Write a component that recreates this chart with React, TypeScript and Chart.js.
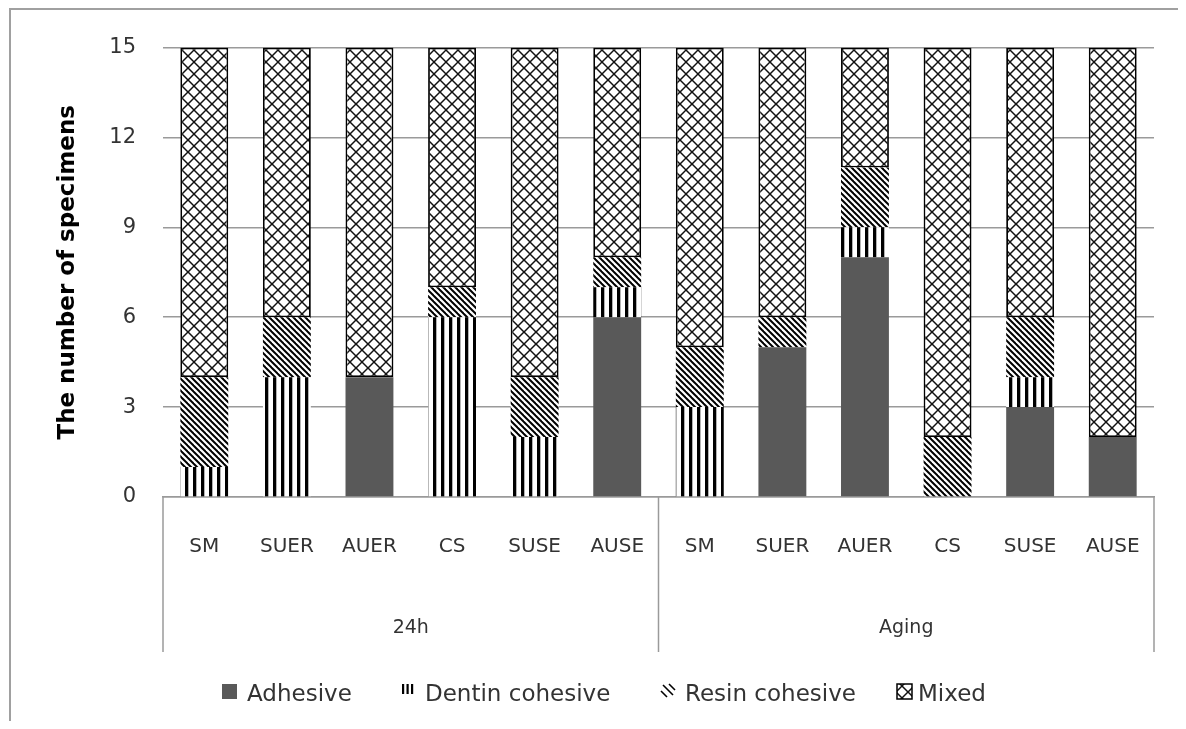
import React, { useEffect, useRef } from "react";
import { Chart, registerables } from "chart.js";

Chart.register(...registerables);

// ---- data ----
const subCategories = ["SM", "SUER", "AUER", "CS", "SUSE", "AUSE", "SM", "SUER", "AUER", "CS", "SUSE", "AUSE"];
const groups = ["24h", "Aging"];
const groupSize = 6;
const adhesive = [0, 0, 4, 0, 0, 6, 0, 5, 8, 0, 3, 2];
const dentinCohesive = [1, 4, 0, 6, 2, 1, 3, 0, 1, 0, 1, 0];
const resinCohesive = [3, 2, 0, 1, 2, 1, 2, 1, 2, 2, 2, 0];
const mixed = [11, 9, 11, 8, 11, 7, 10, 9, 4, 13, 9, 13];
const seriesNames = ["Adhesive", "Dentin cohesive", "Resin cohesive", "Mixed"];
const yTicks = [0, 3, 6, 9, 12, 15];
const yTitle = "The number of specimens";

const W = 1170;
const H = 713;
const FONT = "'DejaVu Sans', sans-serif";

function makeTile(size: number, draw: (c: CanvasRenderingContext2D) => void): CanvasPattern {
  const cv = document.createElement("canvas");
  cv.width = size;
  cv.height = size;
  const c = cv.getContext("2d")!;
  c.fillStyle = "#ffffff";
  c.fillRect(0, 0, size, size);
  draw(c);
  const ctx = document.createElement("canvas").getContext("2d")!;
  return ctx.createPattern(cv, "repeat")!;
}

export default function App() {
  const ref = useRef<HTMLCanvasElement | null>(null);

  useEffect(() => {
    if (!ref.current) return;

    const dentinPat = makeTile(8, (c) => {
      c.fillStyle = "#000";
      c.fillRect(1, 0, 3.3, 8);
    });
    const resinPat = makeTile(6, (c) => {
      c.strokeStyle = "#000";
      c.lineWidth = 2;
      for (const k of [-6, 0, 6]) {
        c.beginPath();
        c.moveTo(k - 1, -1);
        c.lineTo(k + 7, 7);
        c.stroke();
      }
    });
    const T = 12;
    const mixedPat = makeTile(T, (c) => {
      c.strokeStyle = "#111";
      c.lineWidth = 1.5;
      for (const k of [-T, 0, T]) {
        c.beginPath();
        c.moveTo(k - 1, -1);
        c.lineTo(k + T + 1, T + 1);
        c.stroke();
        c.beginPath();
        c.moveTo(k + T + 1, -1);
        c.lineTo(k - 1, T + 1);
        c.stroke();
      }
    });

    const fills: (string | CanvasPattern)[] = ["#595959", dentinPat, resinPat, mixedPat];

    const decor = {
      id: "decor",
      beforeDraw(chart: any) {
        const ctx = chart.ctx as CanvasRenderingContext2D;
        ctx.save();
        ctx.fillStyle = "#fff";
        ctx.fillRect(0, 0, W, H);
        ctx.strokeStyle = "#a0a0a0";
        ctx.lineWidth = 2;
        ctx.beginPath();
        ctx.moveTo(2, H + 5);
        ctx.lineTo(2, 1);
        ctx.lineTo(W + 5, 1);
        ctx.stroke();
        ctx.restore();
      },
      afterDraw(chart: any) {
        const ctx = chart.ctx as CanvasRenderingContext2D;
        const area = chart.chartArea;
        const xs = chart.scales.x;
        ctx.save();
        // category group separators
        const half = (xs.getPixelForValue(1) - xs.getPixelForValue(0)) / 2;
        const sepXs = [area.left, xs.getPixelForValue(groupSize - 1) + half, area.right];
        ctx.strokeStyle = "#9a9a9a";
        ctx.lineWidth = 1.5;
        for (const x of sepXs) {
          ctx.beginPath();
          ctx.moveTo(x, area.bottom);
          ctx.lineTo(x, 644);
          ctx.stroke();
        }
        // group labels
        ctx.fillStyle = "#333";
        ctx.font = `19px ${FONT}`;
        ctx.textAlign = "center";
        ctx.textBaseline = "middle";
        groups.forEach((g, i) => {
          const a = xs.getPixelForValue(i * groupSize) - half;
          const b = xs.getPixelForValue(i * groupSize + groupSize - 1) + half;
          ctx.fillText(g, (a + b) / 2, 620);
        });
        // legend
        const iconX = [214, 391, 652, 889];
        const textX = [239, 417, 677, 910];
        const iy = 676;
        const sz = 15;
        ctx.font = `23px ${FONT}`;
        ctx.textAlign = "left";
        seriesNames.forEach((name, i) => {
          const x = iconX[i];
          if (i === 0) {
            ctx.fillStyle = fills[0] as string;
            ctx.fillRect(x, iy, sz, sz);
          } else if (i === 1) {
            ctx.fillStyle = "#000";
            for (let k = 0; k < 3; k++) ctx.fillRect(x + 3 + k * 4.5, iy, 2.2, 10);
          } else if (i === 2) {
            ctx.strokeStyle = "#000";
            ctx.lineWidth = 1.6;
            const centers = [
              [x + 4, iy + 10, 3],
              [x + 8, iy + 6, 5],
              [x + 12, iy + 3, 3],
            ];
            for (const [cx, cy, l] of centers) {
              ctx.beginPath();
              ctx.moveTo(cx - l, cy - l);
              ctx.lineTo(cx + l, cy + l);
              ctx.stroke();
            }
          } else {
            ctx.fillStyle = fills[3];
            ctx.fillRect(x, iy, sz, sz);
            ctx.strokeStyle = "#000";
            ctx.lineWidth = 1.5;
            ctx.strokeRect(x, iy, sz, sz);
          }
          ctx.fillStyle = "#333";
          ctx.textBaseline = "middle";
          ctx.fillText(name, textX[i], 687);
        });
        ctx.restore();
      },
    };

    const data = [adhesive, dentinCohesive, resinCohesive, mixed];
    const chart = new Chart(ref.current, {
      type: "bar",
      data: {
        labels: subCategories,
        datasets: data.map((d, i) => ({
          label: seriesNames[i],
          data: d,
          backgroundColor: fills[i] as any,
          borderColor: "#000",
          borderWidth: i === 3 ? 1.8 : 0,
          borderSkipped: false,
          categoryPercentage: 1,
          barPercentage: 0.58,
        })),
      },
      options: {
        animation: false,
        responsive: false,
        devicePixelRatio: 1,
        layout: { padding: { left: 43, top: 36, right: 11, bottom: 0 } },
        plugins: {
          legend: { display: false },
          tooltip: { enabled: false },
        },
        scales: {
          x: {
            stacked: true,
            grid: { display: false, drawTicks: false },
            border: { display: true, color: "#9a9a9a", width: 1.5 },
            ticks: {
              color: "#333",
              font: { family: FONT, size: 20 },
              padding: 38,
              maxRotation: 0,
              autoSkip: false,
            },
            afterFit: (s: any) => {
              s.height = H - 489;
            },
          },
          y: {
            stacked: true,
            min: 0,
            max: 15,
            grid: { color: "#9a9a9a", lineWidth: 1.5, drawTicks: false },
            border: { display: false },
            ticks: {
              color: "#333",
              font: { family: FONT, size: 21 },
              padding: 27,
            },
            afterBuildTicks: (s: any) => {
              s.ticks = yTicks.map((v) => ({ value: v }));
            },
            afterFit: (s: any) => {
              s.width = 155 - 43;
            },
            title: {
              display: true,
              text: yTitle,
              color: "#000",
              font: { family: FONT, size: 23, weight: "bold" },
              padding: { top: 3, bottom: 0 },
            },
          },
        },
      },
      plugins: [decor],
    });
    return () => chart.destroy();
  }, []);

  return (
    <div style={{ width: W, height: H }}>
      <canvas ref={ref} width={W} height={H} style={{ display: "block" }} />
    </div>
  );
}
